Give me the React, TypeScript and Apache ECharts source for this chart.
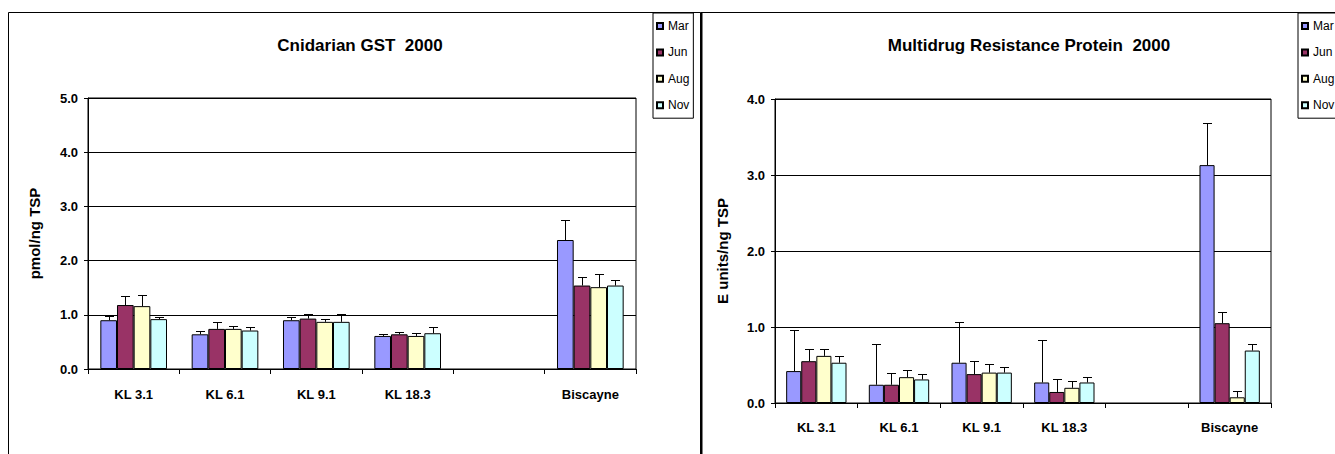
import React, { useEffect, useRef } from "react";
import * as echarts from "echarts";

const categories = ["KL 3.1", "KL 6.1", "KL 9.1", "KL 18.3", "", "Biscayne"];
const seasons = ["Mar", "Jun", "Aug", "Nov"];
const seasonColors = ["#9999FF", "#993366", "#FFFFCC", "#CCFFFF"];

// Cnidarian GST 2000 (pmol/ng TSP)
const gstMar = [0.9, 0.64, 0.9, 0.61, null, 2.38];
const gstJun = [1.18, 0.74, 0.93, 0.64, null, 1.54];
const gstAug = [1.16, 0.74, 0.87, 0.61, null, 1.51];
const gstNov = [0.92, 0.71, 0.87, 0.66, null, 1.54];
const gstMarErr = [0.08, 0.06, 0.06, 0.04, null, 0.36];
const gstJunErr = [0.16, 0.12, 0.08, 0.05, null, 0.16];
const gstAugErr = [0.21, 0.06, 0.06, 0.05, null, 0.24];
const gstNovErr = [0.04, 0.06, 0.14, 0.12, null, 0.11];

// Multidrug Resistance Protein 2000 (E units/ng TSP)
const mrpMar = [0.42, 0.24, 0.53, 0.27, null, 3.13];
const mrpJun = [0.55, 0.24, 0.38, 0.145, null, 1.05];
const mrpAug = [0.62, 0.34, 0.4, 0.2, null, 0.075];
const mrpNov = [0.53, 0.31, 0.4, 0.27, null, 0.69];
const mrpMarErr = [0.54, 0.54, 0.54, 0.56, null, 0.55];
const mrpJunErr = [0.16, 0.16, 0.17, 0.165, null, 0.15];
const mrpAugErr = [0.09, 0.09, 0.11, 0.09, null, 0.085];
const mrpNovErr = [0.09, 0.07, 0.07, 0.07, null, 0.09];

const gstTicks = ["0.0", "1.0", "2.0", "3.0", "4.0", "5.0"];
const mrpTicks = ["0.0", "1.0", "2.0", "3.0", "4.0"];

const FONT = '"Liberation Sans", Arial, sans-serif';
const CAT_GAP = 0.27;

function buildSeries(
  axisIdx: number,
  values: (number | null)[][],
  errs: (number | null)[][]
) {
  const out: any[] = [];
  values.forEach((vals, s) => {
    out.push({
      name: seasons[s],
      type: "bar",
      xAxisIndex: axisIdx,
      yAxisIndex: axisIdx,
      data: vals.map((v) => (v == null ? "-" : v)),
      barGap: "0%",
      barCategoryGap: CAT_GAP * 100 + "%",
      itemStyle: { color: seasonColors[s], borderColor: "#000", borderWidth: 1 },
      emphasis: { disabled: true },
    });
  });
  values.forEach((vals, s) => {
    const data: number[][] = [];
    vals.forEach((v, i) => {
      const e = errs[s][i];
      if (v != null && e != null) data.push([i, v, e]);
    });
    out.push({
      type: "custom",
      xAxisIndex: axisIdx,
      yAxisIndex: axisIdx,
      silent: true,
      z: 10,
      data,
      renderItem: (params: any, api: any) => {
        const cat = api.value(0);
        const v = api.value(1);
        const e = api.value(2);
        const base = api.coord([cat, v]);
        const top = api.coord([cat, v + e]);
        const band = api.size([1, 0])[0];
        const groupW = band * (1 - CAT_GAP);
        const barW = groupW / 4;
        const x = Math.round(base[0] - groupW / 2 + barW * (s + 0.5)) + 0.5;
        const ty = Math.round(top[1]) + 0.5;
        return {
          type: "group",
          children: [
            {
              type: "line",
              shape: { x1: x, y1: base[1], x2: x, y2: ty },
              style: { stroke: "#000", lineWidth: 1 },
            },
            {
              type: "line",
              shape: { x1: x - 4.5, y1: ty, x2: x + 4.5, y2: ty },
              style: { stroke: "#000", lineWidth: 1 },
            },
          ],
        };
      },
    });
  });
  return out;
}

function xAxisDef(gridIndex: number, margin: number) {
  return {
    type: "category",
    gridIndex,
    data: categories,
    boundaryGap: true,
    axisLine: { show: true, lineStyle: { color: "#000", width: 1 } },
    axisTick: { show: true, length: 5, inside: false, alignWithLabel: false, lineStyle: { color: "#000" } },
    axisLabel: {
      interval: 0,
      margin,
      color: "#000",
      fontFamily: FONT,
      fontWeight: "bold",
      fontSize: 13,
    },
    splitLine: { show: false },
  };
}

function yAxisDef(gridIndex: number, max: number, ticks: string[], name: string, nameGap: number) {
  return {
    type: "value",
    gridIndex,
    min: 0,
    max,
    interval: 1,
    name,
    nameLocation: "middle",
    nameGap,
    nameRotate: 90,
    nameTextStyle: { color: "#000", fontFamily: FONT, fontWeight: "bold", fontSize: 15 },
    axisLine: { show: true, lineStyle: { color: "#000", width: 1 } },
    axisTick: { show: true, length: 4, lineStyle: { color: "#000" } },
    axisLabel: {
      margin: 10,
      color: "#000",
      fontFamily: FONT,
      fontWeight: "bold",
      fontSize: 13,
      formatter: (v: number) => ticks[Math.round(v)] ?? v.toFixed(1),
    },
    splitLine: { show: true, lineStyle: { color: "#000", width: 1 } },
  };
}

function legendDef(left: number) {
  return {
    orient: "vertical",
    left,
    top: 13,
    data: seasons,
    itemWidth: 6,
    itemHeight: 6,
    itemGap: 14.4,
    padding: [7, 4, 7, 3],
    borderColor: "#000",
    borderWidth: 1,
    backgroundColor: "#fff",
    selectedMode: false,
    icon: "rect",
    textStyle: { color: "#000", fontFamily: FONT, fontSize: 12, lineHeight: 12 },
  };
}

export default function App() {
  const ref = useRef<HTMLDivElement>(null);
  useEffect(() => {
    if (!ref.current) return;
    const chart = echarts.init(ref.current, null, { renderer: "svg" });
    const option: any = {
      animation: false,
      backgroundColor: "#fff",
      title: [
        {
          text: "Cnidarian GST  2000",
          left: 355,
          top: 32,
          textAlign: "center",
          textStyle: { color: "#000", fontFamily: FONT, fontWeight: "bold", fontSize: 17 },
        },
        {
          text: "Multidrug Resistance Protein  2000",
          left: 1024,
          top: 32,
          textAlign: "center",
          textStyle: { color: "#000", fontFamily: FONT, fontWeight: "bold", fontSize: 17 },
        },
      ],
      legend: [legendDef(653), legendDef(1298)],
      grid: [
        { left: 88, top: 98, width: 548, height: 271, show: true, borderColor: "#000", borderWidth: 1, containLabel: false },
        { left: 775, top: 99, width: 496, height: 304, show: true, borderColor: "#000", borderWidth: 1, containLabel: false },
      ],
      xAxis: [xAxisDef(0, 19), xAxisDef(1, 18)],
      yAxis: [
        yAxisDef(0, 5, gstTicks, "pmol/ng TSP", 46),
        yAxisDef(1, 4, mrpTicks, "E units/ng TSP", 45),
      ],
      series: [
        ...buildSeries(0, [gstMar, gstJun, gstAug, gstNov], [gstMarErr, gstJunErr, gstAugErr, gstNovErr]),
        ...buildSeries(1, [mrpMar, mrpJun, mrpAug, mrpNov], [mrpMarErr, mrpJunErr, mrpAugErr, mrpNovErr]),
      ],
      graphic: [
        {
          type: "rect",
          silent: true,
          z: -1,
          shape: { x: 8.5, y: 12.5, width: 692, height: 480 },
          style: { fill: "none", stroke: "#000", lineWidth: 1 },
        },
        {
          type: "line",
          silent: true,
          shape: { x1: 701.5, y1: 12, x2: 701.5, y2: 454 },
          style: { stroke: "#000", lineWidth: 2 },
        },
        {
          type: "line",
          silent: true,
          shape: { x1: 701, y1: 12.5, x2: 1335, y2: 12.5 },
          style: { stroke: "#000", lineWidth: 1 },
        },
      ],
    };
    chart.setOption(option);
    return () => chart.dispose();
  }, []);
  return (
    <div
      ref={ref}
      style={{ position: "absolute", left: 0, top: 0, width: 1335, height: 454 }}
    />
  );
}
